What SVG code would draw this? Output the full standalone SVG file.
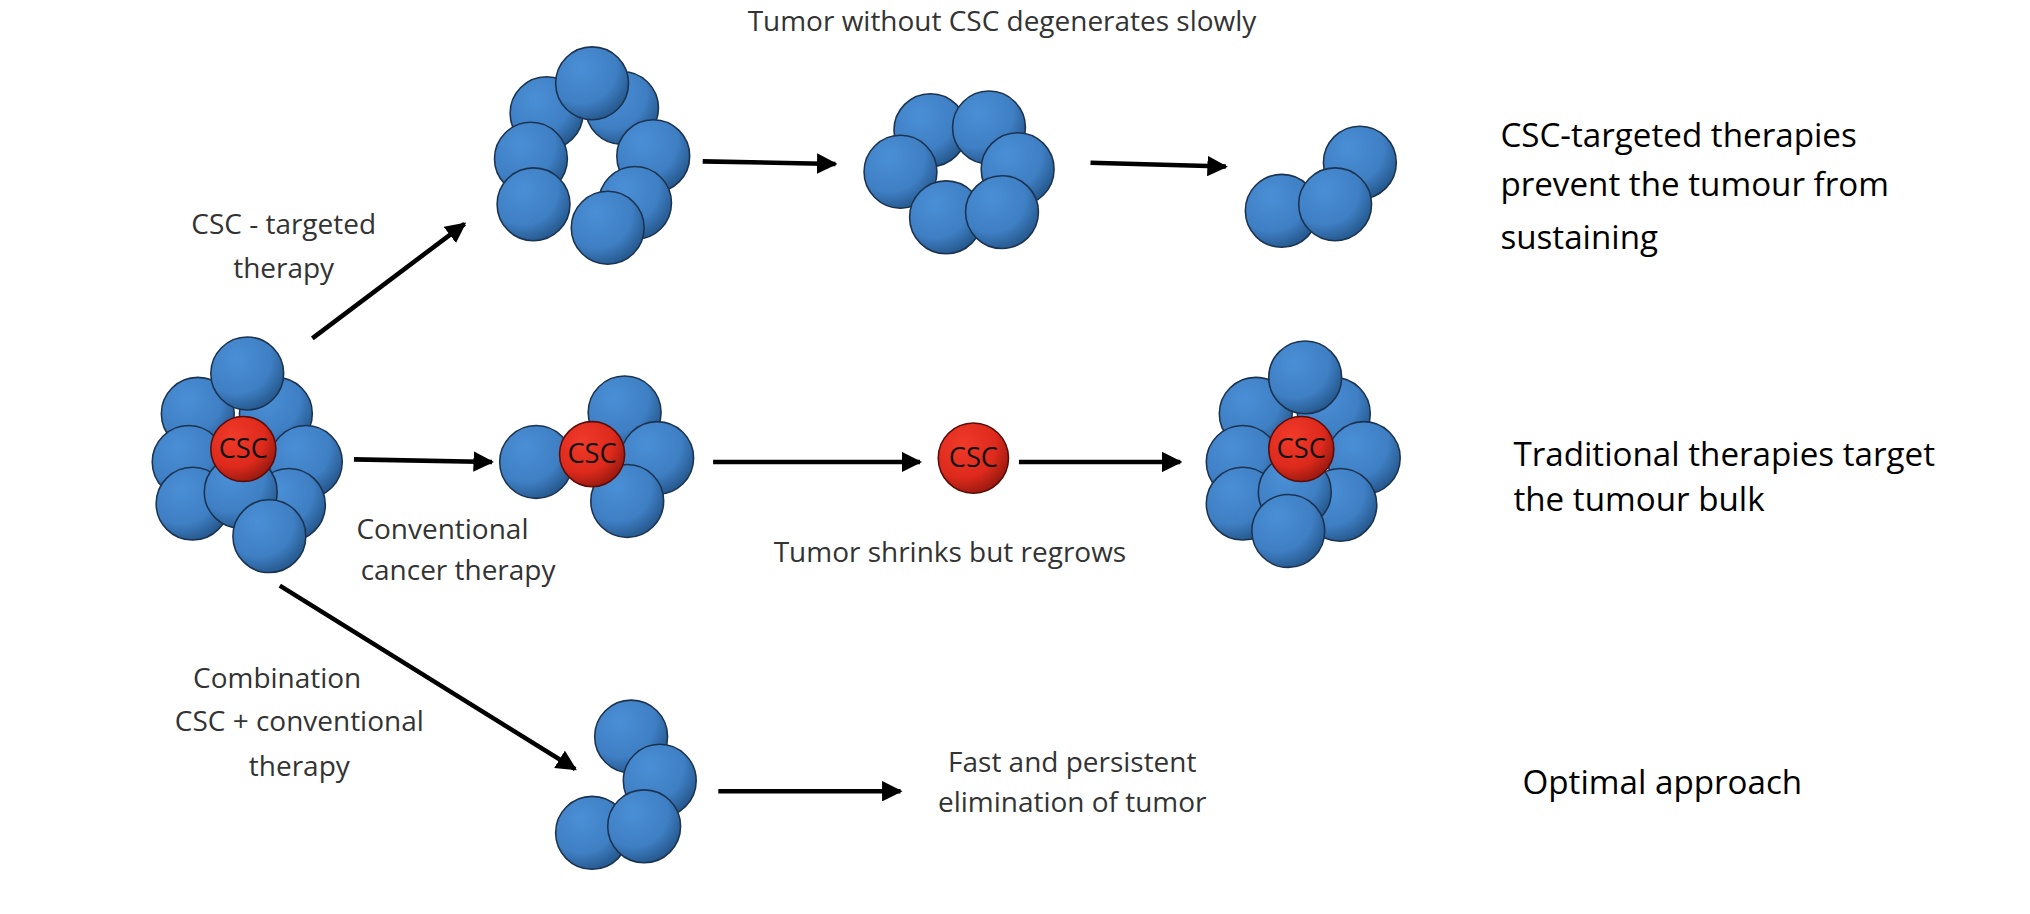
<svg xmlns="http://www.w3.org/2000/svg" width="2030" height="914" viewBox="0 0 2030 914">
<defs>
<radialGradient id="gb" cx="0.35" cy="0.3" r="0.8"><stop offset="0" stop-color="#4a8fd6"/><stop offset="0.6" stop-color="#3f7fc4"/><stop offset="1" stop-color="#1f4f80"/></radialGradient>
<radialGradient id="gr" cx="0.35" cy="0.3" r="0.8"><stop offset="0" stop-color="#f03a2a"/><stop offset="0.6" stop-color="#dd2a1c"/><stop offset="1" stop-color="#8a150d"/></radialGradient>
<marker id="ah" viewBox="0 0 10 10" refX="9" refY="5" markerWidth="4.5" markerHeight="4.5" orient="auto"><path d="M0,0L10,5L0,10z" fill="#000"/></marker>
</defs>
<style>
.b{fill:url(#gb);stroke:#1c3350;stroke-width:1.2}
.r{fill:url(#gr);stroke:#5a0d08;stroke-width:1.2}
.c{stroke:#000;stroke-width:3.5;fill:none;marker-end:url(#ah)}
.l{font-family:"Open Sans","Liberation Sans",sans-serif;font-size:21.5px;fill:#333;text-anchor:middle}
.k{font-family:"Open Sans","Liberation Sans",sans-serif;font-size:25.5px;fill:#000}
.s{font-family:"Open Sans","Liberation Sans",sans-serif;font-size:21px;fill:#111;text-anchor:middle}
</style>
<rect width="2030" height="914" fill="#fff"/>
<g transform="scale(1.3013)">
<g id="connectors">
<line class="c" x1="240" y1="260" x2="357" y2="172"/>
<line class="c" x1="272" y1="353" x2="378" y2="355"/>
<line class="c" x1="215" y1="450" x2="442" y2="591"/>
<line class="c" x1="540" y1="124" x2="642" y2="126"/>
<line class="c" x1="838" y1="125" x2="942" y2="128"/>
<line class="c" x1="548" y1="355" x2="707" y2="355"/>
<line class="c" x1="783" y1="355" x2="907" y2="355"/>
<line class="c" x1="552" y1="608" x2="692" y2="608"/>
</g>
<g id="tumor-start">
<circle class="b" cx="152" cy="318" r="28"/><circle class="b" cx="212" cy="318" r="28"/>
<circle class="b" cx="190" cy="287" r="28"/>
<circle class="b" cx="145" cy="355" r="28"/><circle class="b" cx="235" cy="355" r="28"/>
<circle class="b" cx="148" cy="387" r="28"/><circle class="b" cx="222" cy="388" r="28"/>
<circle class="b" cx="185" cy="378" r="28"/><circle class="b" cx="207" cy="412" r="28"/>
<circle class="r" cx="187" cy="345" r="25"/><text class="s" x="187" y="352">CSC</text>
</g>
<g id="tumor-no-csc-1">
<circle class="b" cx="420" cy="87" r="28"/><circle class="b" cx="478" cy="83" r="28"/><circle class="b" cx="455" cy="64" r="28"/>
<circle class="b" cx="408" cy="122" r="28"/><circle class="b" cx="502" cy="120" r="28"/>
<circle class="b" cx="410" cy="157" r="28"/><circle class="b" cx="488" cy="156" r="28"/><circle class="b" cx="467" cy="175" r="28"/>
</g>
<g id="tumor-no-csc-2">
<circle class="b" cx="715" cy="100" r="28"/><circle class="b" cx="760" cy="98" r="28"/>
<circle class="b" cx="692" cy="132" r="28"/><circle class="b" cx="782" cy="130" r="28"/>
<circle class="b" cx="727" cy="167" r="28"/><circle class="b" cx="770" cy="163" r="28"/>
</g>
<g id="tumor-no-csc-3">
<circle class="b" cx="1045" cy="125" r="28"/><circle class="b" cx="985" cy="162" r="28"/><circle class="b" cx="1026" cy="157" r="28"/>
</g>
<g id="tumor-conventional">
<circle class="b" cx="480" cy="317" r="28"/><circle class="b" cx="412" cy="355" r="28"/><circle class="b" cx="505" cy="352" r="28"/><circle class="b" cx="482" cy="385" r="28"/>
<circle class="r" cx="455" cy="349" r="25"/><text class="s" x="455" y="356">CSC</text>
</g>
<g id="csc-alone">
<circle class="r" cx="748" cy="352" r="27"/><text class="s" x="748" y="359">CSC</text>
</g>
<g id="tumor-regrown">
<circle class="b" cx="965" cy="318" r="28"/><circle class="b" cx="1025" cy="318" r="28"/>
<circle class="b" cx="1003" cy="290" r="28"/>
<circle class="b" cx="955" cy="355" r="28"/><circle class="b" cx="1048" cy="352" r="28"/>
<circle class="b" cx="955" cy="387" r="28"/><circle class="b" cx="1030" cy="388" r="28"/>
<circle class="b" cx="995" cy="378" r="28"/><circle class="b" cx="990" cy="408" r="28"/>
<circle class="r" cx="1000" cy="345" r="25"/><text class="s" x="1000" y="352">CSC</text>
</g>
<g id="tumor-combination">
<circle class="b" cx="485" cy="566" r="28"/><circle class="b" cx="507" cy="600" r="28"/>
<circle class="b" cx="455" cy="640" r="28"/><circle class="b" cx="495" cy="635" r="28"/>
</g>
<g id="labels">
<text class="l" x="770" y="24">Tumor without CSC degenerates slowly</text>
<text class="l" x="218" y="180">CSC - targeted</text>
<text class="l" x="218" y="214">therapy</text>
<text class="l" x="340" y="414">Conventional</text>
<text class="l" x="352" y="446">cancer therapy</text>
<text class="l" x="730" y="432">Tumor shrinks but regrows</text>
<text class="l" x="213" y="529">Combination</text>
<text class="l" x="230" y="562">CSC + conventional</text>
<text class="l" x="230" y="596">therapy</text>
<text class="l" x="824" y="593">Fast and persistent</text>
<text class="l" x="824" y="624">elimination of tumor</text>
<text class="k" x="1153" y="113">CSC-targeted therapies</text>
<text class="k" x="1153" y="151">prevent the tumour from</text>
<text class="k" x="1153" y="191">sustaining</text>
<text class="k" x="1163" y="358">Traditional therapies target</text>
<text class="k" x="1163" y="393">the tumour bulk</text>
<text class="k" x="1170" y="610">Optimal approach</text>
</g>
</g>
</svg>
